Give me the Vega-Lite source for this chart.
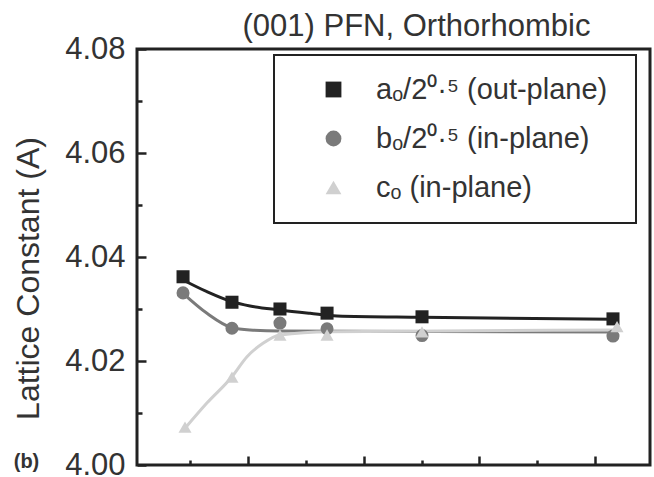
{
  "$schema": "https://vega.github.io/schema/vega-lite/v6.json",
  "width": 513,
  "height": 416,
  "autosize": "none",
  "padding": {"left": 137, "top": 49, "right": 4, "bottom": 12},
  "background": "white",
  "title": {
    "text": "(001) PFN, Orthorhombic",
    "font": "Liberation Sans",
    "fontSize": 31,
    "fontWeight": "normal",
    "color": "#333333",
    "anchor": "middle",
    "dx": 23,
    "dy": 22,
    "offset": 12
  },
  "datasets": {
    "fit": [
      {"s": "a", "x": 43.8, "v": 4.03558},
      {"s": "a", "x": 64.5, "v": 4.03333},
      {"s": "a", "x": 86.1, "v": 4.03141},
      {"s": "a", "x": 101.7, "v": 4.03058},
      {"s": "a", "x": 127.6, "v": 4.02981},
      {"s": "a", "x": 153.6, "v": 4.02917},
      {"s": "a", "x": 176.9, "v": 4.02865},
      {"s": "a", "x": 250.4, "v": 4.0284},
      {"s": "a", "x": 415.5, "v": 4.02801},
      {"s": "b", "x": 43.8, "v": 4.03301},
      {"s": "b", "x": 64.5, "v": 4.02917},
      {"s": "b", "x": 86.1, "v": 4.02641},
      {"s": "b", "x": 101.7, "v": 4.02596},
      {"s": "b", "x": 127.6, "v": 4.02577},
      {"s": "b", "x": 415.5, "v": 4.02558},
      {"s": "c", "x": 45.5, "v": 4.00706},
      {"s": "c", "x": 64.2, "v": 4.01186},
      {"s": "c", "x": 86.1, "v": 4.01698},
      {"s": "c", "x": 99.1, "v": 4.02083},
      {"s": "c", "x": 112.9, "v": 4.0234},
      {"s": "c", "x": 127.6, "v": 4.025},
      {"s": "c", "x": 170.8, "v": 4.02563},
      {"s": "c", "x": 421.5, "v": 4.02596}
    ],
    "pts": [
      {"series": "aₒ/2⁰·⁵  (out-plane)", "x": 43.8, "v": 4.0362},
      {"series": "aₒ/2⁰·⁵  (out-plane)", "x": 86.1, "v": 4.0313},
      {"series": "aₒ/2⁰·⁵  (out-plane)", "x": 127.6, "v": 4.03},
      {"series": "aₒ/2⁰·⁵  (out-plane)", "x": 168.3, "v": 4.0292},
      {"series": "aₒ/2⁰·⁵  (out-plane)", "x": 250.4, "v": 4.0285},
      {"series": "aₒ/2⁰·⁵  (out-plane)", "x": 415.5, "v": 4.0281},
      {"series": "bₒ/2⁰·⁵  (in-plane)", "x": 43.8, "v": 4.0331},
      {"series": "bₒ/2⁰·⁵  (in-plane)", "x": 86.1, "v": 4.0263},
      {"series": "bₒ/2⁰·⁵  (in-plane)", "x": 127.6, "v": 4.0273},
      {"series": "bₒ/2⁰·⁵  (in-plane)", "x": 168.3, "v": 4.0262},
      {"series": "bₒ/2⁰·⁵  (in-plane)", "x": 250.4, "v": 4.0249},
      {"series": "bₒ/2⁰·⁵  (in-plane)", "x": 415.5, "v": 4.0248},
      {"series": "cₒ  (in-plane)", "x": 45.5, "v": 4.0073},
      {"series": "cₒ  (in-plane)", "x": 86.1, "v": 4.0169},
      {"series": "cₒ  (in-plane)", "x": 127.6, "v": 4.025},
      {"series": "cₒ  (in-plane)", "x": 168.3, "v": 4.025},
      {"series": "cₒ  (in-plane)", "x": 250.4, "v": 4.0256},
      {"series": "cₒ  (in-plane)", "x": 419, "v": 4.0266}
    ]
  },
  "encoding": {
    "x": {
      "field": "x",
      "type": "quantitative",
      "scale": {"domain": [4, 447.5], "nice": false, "zero": false},
      "axis": {
        "values": [50, 100, 150, 200, 250, 300, 350, 400],
        "labels": false,
        "domain": false,
        "grid": false,
        "tickColor": "#222222",
        "tickWidth": 2.5,
        "tickSize": {"condition": {"test": "datum.value % 100 == 0", "value": -9}, "value": -5},
        "title": "(b)",
        "titleFont": "Liberation Sans",
        "titleFontSize": 20,
        "titleFontWeight": "bold",
        "titleColor": "#333333",
        "titleX": -111,
        "titleY": -4,
        "titleAlign": "center",
        "titleBaseline": "middle"
      }
    },
    "y": {
      "field": "v",
      "type": "quantitative",
      "scale": {"domain": [4.0, 4.08], "nice": false, "zero": false},
      "axis": {
        "values": [4.0, 4.01, 4.02, 4.03, 4.04, 4.05, 4.06, 4.07, 4.08],
        "labelExpr": "round(datum.value*100) % 2 == 0 ? format(datum.value, '.2f') : ''",
        "domain": false,
        "grid": false,
        "tickColor": "#222222",
        "tickWidth": 2.5,
        "tickSize": {"condition": {"test": "round(datum.value*100) % 2 == 0", "value": -9}, "value": -5},
        "labelFont": "Liberation Sans",
        "labelFontSize": 31,
        "labelColor": "#333333",
        "labelPadding": 21,
        "labelFlush": false,
        "labelOverlap": false,
        "labelBound": false,
        "title": "Lattice Constant (A)",
        "titleFont": "Liberation Sans",
        "titleFontSize": 32,
        "titleFontWeight": "normal",
        "titleColor": "#333333",
        "titleX": -109,
        "titleY": 229,
        "titleAngle": -90,
        "titleAlign": "center",
        "titleBaseline": "middle"
      }
    }
  },
  "layer": [
    {
      "data": {"name": "fit"},
      "mark": {"type": "line", "strokeWidth": 3, "interpolate": "monotone"},
      "encoding": {
        "stroke": {
          "field": "s",
          "type": "nominal",
          "scale": {
            "domain": ["a", "b", "c"],
            "range": ["#222222", "#7a7a7a", "#d0d0d0"]
          },
          "legend": null
        }
      }
    },
    {
      "data": {"name": "pts"},
      "mark": {"type": "point", "filled": true, "opacity": 1, "size": 170},
      "encoding": {
        "color": {
          "field": "series",
          "type": "nominal",
          "scale": {
            "domain": ["aₒ/2⁰·⁵  (out-plane)", "bₒ/2⁰·⁵  (in-plane)", "cₒ  (in-plane)"],
            "range": ["#222222", "#7a7a7a", "#d0d0d0"]
          },
          "legend": {
            "title": null,
            "orient": "none",
            "legendX": 137,
            "legendY": 6
          }
        },
        "shape": {
          "field": "series",
          "type": "nominal",
          "scale": {
            "domain": ["aₒ/2⁰·⁵  (out-plane)", "bₒ/2⁰·⁵  (in-plane)", "cₒ  (in-plane)"],
            "range": ["square", "circle", "triangle-up"]
          },
          "legend": {
            "title": null,
            "orient": "none",
            "legendX": 137,
            "legendY": 6
          }
        }
      }
    }
  ],
  "config": {
    "view": {"stroke": "#222222", "strokeWidth": 3},
    "legend": {
      "padding": 20,
      "strokeColor": "#222222",
      "strokeWidth": 2,
      "fillColor": "white",
      "labelFont": "Liberation Sans",
      "labelFontSize": 29,
      "labelColor": "#333333",
      "symbolSize": 250,
      "symbolOffset": 25,
      "labelOffset": 28,
      "rowPadding": 19,
      "symbolStrokeWidth": 0,
      "labelLimit": 400
    }
  }
}
